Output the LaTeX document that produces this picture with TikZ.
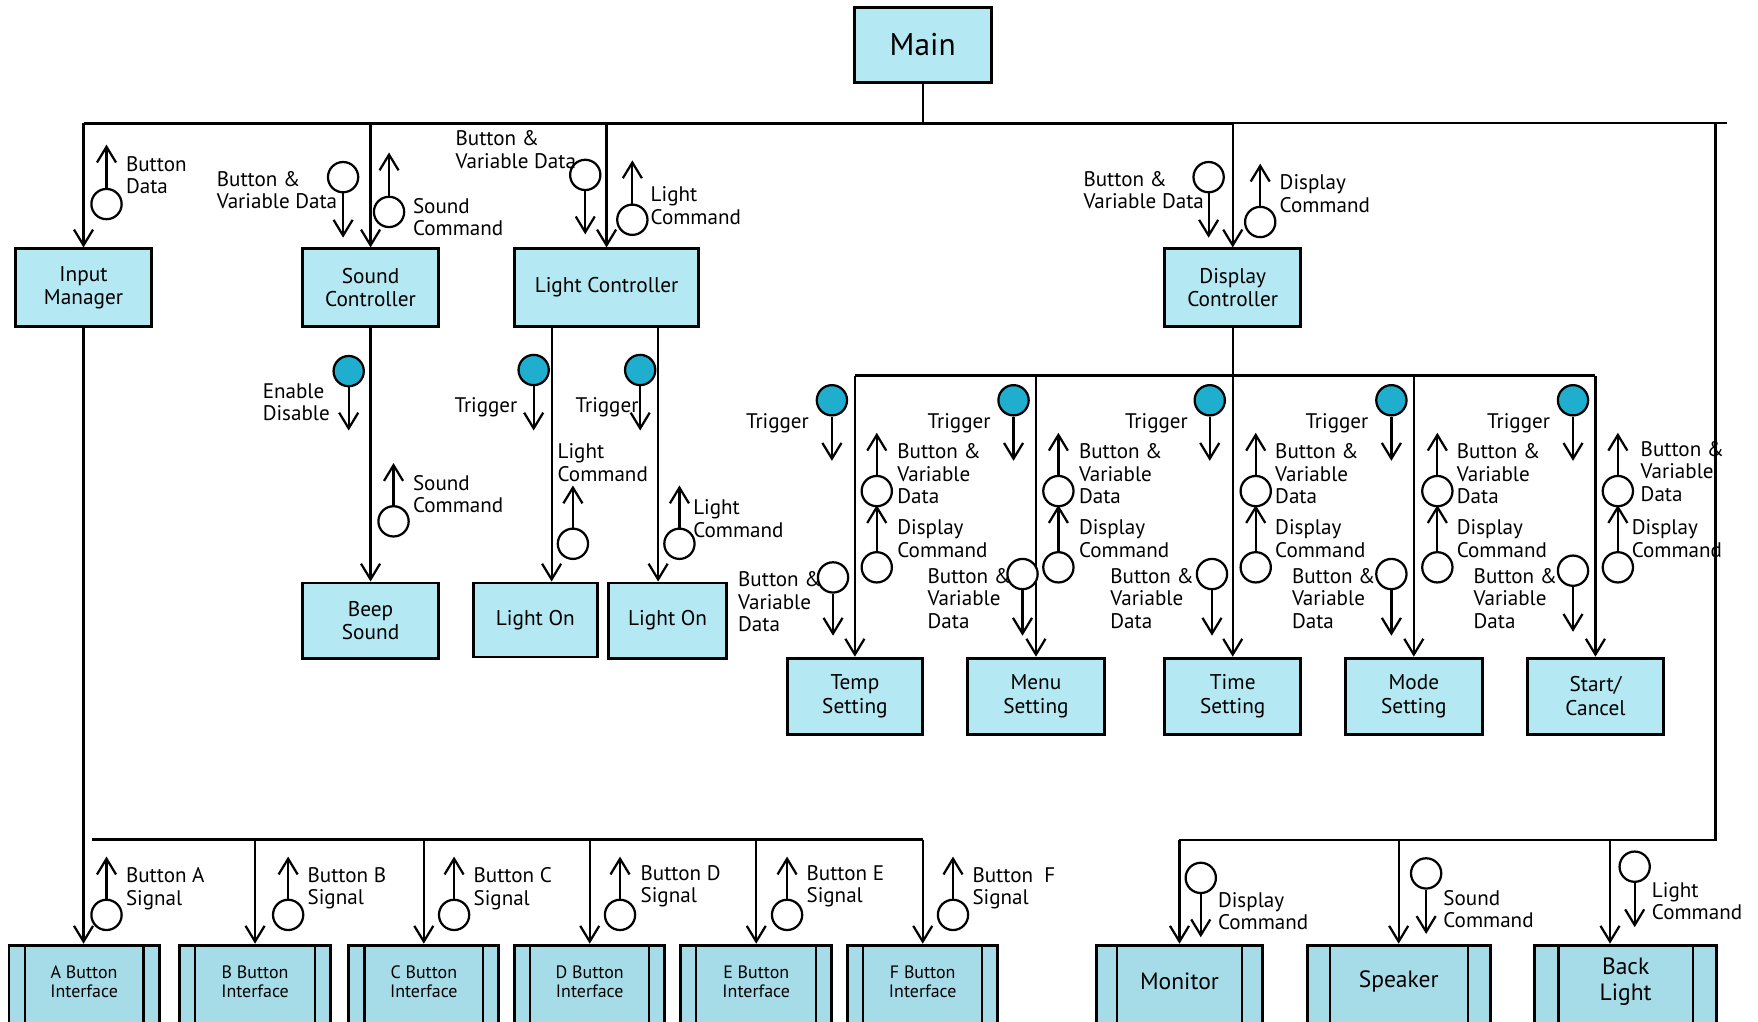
\documentclass[tikz,border=0pt]{standalone}
\usepackage{fontspec}
\setmainfont{PT Sans}
\usetikzlibrary{arrows.meta}
\definecolor{boxfill}{RGB}{180,232,242}
\definecolor{ifacefill}{RGB}{166,220,232}
\definecolor{flagfill}{RGB}{32,174,206}

% data couple: circle, flow arrow and its label
% #1 name, #2 circle style, #3 centre, #4 side the arrow leaves from,
% #5 shaft length, #6 label anchor, #7 label text
\newcommand\cpl[7]{%
  \node[#2] (#1) at #3 {};
  \draw[arr] (#1.#4) -- ++(0,#5);
  \node[lbl] (#1-t) at #6 {#7};
}

\begin{document}
\begin{tikzpicture}[x=0.5pt,y=-0.5pt,
  wh/.style 2 args={minimum width=#1*0.5pt, minimum height=#2*0.5pt},
  box/.style={draw, fill=boxfill, line width=1.3pt, align=center, inner sep=0pt,
    font=\fontsize{9.5}{10.5}\selectfont},
  iface/.style={draw, fill=ifacefill, line width=1.3pt, inner sep=0pt,
    path picture={\draw[line width=1pt]
      ([xshift=#1]path picture bounding box.north west) -- ([xshift=#1]path picture bounding box.south west)
      ([xshift=-#1]path picture bounding box.north east) -- ([xshift=-#1]path picture bounding box.south east);}},
  iftxt/.style={align=center, inner sep=0pt, yshift=2.25pt, font=\fontsize{8}{8.5}\selectfont},
  devtxt/.style={iftxt, font=\fontsize{10.5}{11.5}\selectfont},
  conn/.style={line width=1pt},
  bus/.style={line width=1.4pt},
  arr/.style={line width=1pt, -{Straight Barb[length=7pt,width=8.5pt]}},
  dc/.style={circle, draw, line width=1pt, minimum size=13.5pt, inner sep=0pt, fill=white},
  fc/.style={dc, fill=flagfill},
  lbl/.style={font=\fontsize{9.4}{10}\selectfont, align=left, inner sep=0pt, anchor=west,
    yshift=-1.75pt, execute at begin node=\strut, execute at end node=\strut}
]
\useasboundingbox (0,0) rectangle (1568,911);
\clip (0,0) rectangle (1568,911);

% ---------- modules ----------
\node[box, wh={122}{67}, font=\fontsize{14}{16}\selectfont] (main) at (823,40) {Main};

\node[box, wh={121}{69}] (inmgr)    at (74.5,256.5)  {Input\\Manager};
\node[box, wh={121}{69}] (sndctl)   at (330.5,256.5) {Sound\\Controller};
\node[box, wh={164}{69}] (lightctl) at (541,256.5)   {Light Controller};
\node[box, wh={121}{69}] (dispctl)  at (1099.5,256.5){Display\\Controller};

\node[box, wh={121}{67}] (beep)     at (330.5,553.5) {Beep\\Sound};
\node[box, wh={111}{66}] (lighton1) at (477.5,553)   {Light On};
\node[box, wh={105}{67}] (lighton2) at (595.5,553.5) {Light On};

\node[box, wh={121}{68}] (temp)  at (762.5,621)  {Temp\\Setting};
\node[box, wh={122}{68}] (menu)  at (924,621)    {Menu\\Setting};
\node[box, wh={121}{68}] (time)  at (1099.5,621) {Time\\Setting};
\node[box, wh={122}{68}] (mode)  at (1261,621)   {Mode\\Setting};
\node[box, wh={122}{68}] (start) at (1423,621)   {Start/\\Cancel};

% ---------- device interfaces ----------
\node[iface=7pt, wh={134}{74}, label={[iftxt]center:{A Button\\Interface}}] (ia) at (75,880)    {};
\node[iface=7pt, wh={135}{74}, label={[iftxt]center:{B Button\\Interface}}] (ib) at (227.5,880) {};
\node[iface=7pt, wh={134}{74}, label={[iftxt]center:{C Button\\Interface}}] (ic) at (378,880)   {};
\node[iface=7pt, wh={134}{74}, label={[iftxt]center:{D Button\\Interface}}] (id) at (526,880)   {};
\node[iface=7pt, wh={135}{74}, label={[iftxt]center:{E Button\\Interface}}] (ie) at (674.5,880) {};
\node[iface=7pt, wh={134}{74}, label={[iftxt]center:{F Button\\Interface}}] (if) at (823,880)   {};

\node[iface=9pt,    wh={148}{74}, label={[devtxt]center:Monitor}]       (monitor)   at (1052,880)   {};
\node[iface=10pt,   wh={163}{74}, label={[devtxt]center:Speaker}]       (speaker)   at (1247.5,880) {};
\node[iface=10.5pt, wh={162}{74}, label={[devtxt]center:{Back\\Light}}] (backlight) at (1450,880)   {};

% ---------- call structure ----------
\coordinate (topbusW) at (75,110);
\coordinate (topbusM) at (1099,110);
\coordinate (topbusE) at (1540,110);
\draw[conn] (main.south) -- (main.south |- topbusW);
\draw[bus] (topbusW) -- (topbusM);
\draw[conn] (topbusM) -- (topbusE);
\draw[arr] (inmgr.north |- topbusW) -- (inmgr.north);
\draw[arr] (sndctl.north |- topbusW) -- (sndctl.north);
\draw[arr] (lightctl.north |- topbusW) -- (lightctl.north);
\draw[arr] (dispctl.north |- topbusW) -- (dispctl.north);

% sound and light sub-modules
\draw[arr] (sndctl.south) -- (beep.north);
\coordinate (l1in) at ([xshift=7.25pt]lighton1.north);
\coordinate (l2in) at ([xshift=-4.25pt]lighton2.north);
\draw[arr] (l1in |- lightctl.south) -- (l1in);
\draw[arr] (l2in |- lightctl.south) -- (l2in);

% display sub-modules
\coordinate (dbus) at (1099,335);
\draw[conn] (dispctl.south) -- (dispctl.south |- dbus);
\draw[bus] (temp.north |- dbus) -- (start.north |- dbus);
\foreach \m in {temp,menu,time,mode,start}
  \draw[arr] (\m.north |- dbus) -- (\m.north);

% button interfaces
\coordinate (btnbusW) at (82,749);
\draw[arr] (inmgr.south) -- (inmgr.south |- ia.north);
\draw[bus] (btnbusW) -- (if.north |- btnbusW);
\foreach \m in {ib,ic,id,ie,if}
  \draw[arr] (\m.north |- btnbusW) -- (\m.north);

% output devices
\coordinate (hwtop) at (1530,110);
\coordinate (hwbus) at (1530,749);
\coordinate (blin) at ([xshift=-7pt]backlight.north);
\draw[conn] (hwtop) -- (hwbus) -- (monitor.north |- hwbus);
\draw[arr] (monitor.north |- hwbus) -- (monitor.north);
\draw[arr] (speaker.north |- hwbus) -- (speaker.north);
\draw[arr] (blin |- hwbus) -- (blin);

% ---------- data couples ----------
\cpl{c1}{dc}{(95,182)}{north}{-38.5}{(112,155.5)}{Button\\Data}
\cpl{c2}{dc}{(306,158)}{south}{39.5}{(193,169)}{Button \&\\Variable Data}
\cpl{c3}{dc}{(347,189)}{north}{-38.5}{(368,193)}{Sound\\Command}
\cpl{c4}{dc}{(522,156)}{south}{38.5}{(406,133)}{Button \&\\Variable Data}
\cpl{c5}{dc}{(564,196)}{north}{-38.5}{(580,183)}{Light\\Command}
\cpl{c6}{dc}{(1078,158)}{south}{39.5}{(966,169)}{Button \&\\Variable Data}
\cpl{c7}{dc}{(1124,198)}{north}{-37.5}{(1141,172)}{Display\\Command}

\cpl{c8}{fc}{(311,331)}{south}{38.5}{(234,358)}{Enable\\Disable}
\cpl{c9}{dc}{(351,465)}{north}{-37.5}{(368,440)}{Sound\\Command}
\cpl{c10}{fc}{(476,330)}{south}{39.5}{(405,360)}{Trigger}
\cpl{c11}{dc}{(511,485)}{north}{-37.5}{(497,412)}{Light\\Command}
\cpl{c12}{fc}{(571,330)}{south}{39.5}{(513,360)}{Trigger}
\cpl{c13}{dc}{(606,485)}{north}{-37.5}{(618,462)}{Light\\Command}

% temp setting
\cpl{t1}{fc}{(742,357)}{south}{39.5}{(665,375)}{Trigger}
\cpl{t2}{dc}{(782,438)}{north}{-37.5}{(800,422)}{Button \&\\Variable\\Data}
\cpl{t3}{dc}{(782,506)}{north}{-41}{(800,480)}{Display\\Command}
\cpl{t4}{dc}{(743,515)}{south}{37.5}{(658,536)}{Button \&\\Variable\\Data}
% menu setting
\cpl{m1}{fc}{(904,357)}{south}{39.5}{(827,375)}{Trigger}
\cpl{m2}{dc}{(944,438)}{north}{-37.5}{(962,422)}{Button \&\\Variable\\Data}
\cpl{m3}{dc}{(944,506)}{north}{-41}{(962,480)}{Display\\Command}
\cpl{m4}{dc}{(912,512)}{south}{40.5}{(827,533)}{Button \&\\Variable\\Data}
% time setting
\cpl{s1}{fc}{(1079,357)}{south}{39.5}{(1003,375)}{Trigger}
\cpl{s2}{dc}{(1120,438)}{north}{-37.5}{(1137,422)}{Button \&\\Variable\\Data}
\cpl{s3}{dc}{(1120,506)}{north}{-41}{(1137,480)}{Display\\Command}
\cpl{s4}{dc}{(1081,512)}{south}{40.5}{(990,533)}{Button \&\\Variable\\Data}
% mode setting
\cpl{o1}{fc}{(1241,357)}{south}{39.5}{(1164,375)}{Trigger}
\cpl{o2}{dc}{(1282,438)}{north}{-37.5}{(1299,422)}{Button \&\\Variable\\Data}
\cpl{o3}{dc}{(1282,506)}{north}{-41}{(1299,480)}{Display\\Command}
\cpl{o4}{dc}{(1241,512)}{south}{40.5}{(1152,533)}{Button \&\\Variable\\Data}
% start / cancel
\cpl{r1}{fc}{(1403,357)}{south}{39.5}{(1326,375)}{Trigger}
\cpl{r2}{dc}{(1443,438)}{north}{-37.5}{(1463,420)}{Button \&\\Variable\\Data}
\cpl{r3}{dc}{(1443,506)}{north}{-41}{(1455,480)}{Display\\Command}
\cpl{r4}{dc}{(1403,509)}{south}{40}{(1314,533)}{Button \&\\Variable\\Data}

% button signals
\cpl{b1}{dc}{(95,816)}{north}{-37.5}{(112,790)}{Button A\\Signal}
\cpl{b2}{dc}{(257,816)}{north}{-37.5}{(274,790)}{Button B\\Signal}
\cpl{b3}{dc}{(405,816)}{north}{-37.5}{(422,790)}{Button C\\Signal}
\cpl{b4}{dc}{(553,816)}{north}{-37.5}{(571,788)}{Button D\\Signal}
\cpl{b5}{dc}{(702,816)}{north}{-37.5}{(719,788)}{Button E\\Signal}
\cpl{b6}{dc}{(850,816)}{north}{-37.5}{(867,790)}{Button\ \ F\\Signal}

% device commands
\cpl{d1}{dc}{(1071,783)}{south}{38.5}{(1086,812)}{Display\\Command}
\cpl{d2}{dc}{(1272,779)}{south}{39.5}{(1287,810)}{Sound\\Command}
\cpl{d3}{dc}{(1458,773)}{south}{39.5}{(1473,803)}{Light\\Command}
\end{tikzpicture}
\end{document}
